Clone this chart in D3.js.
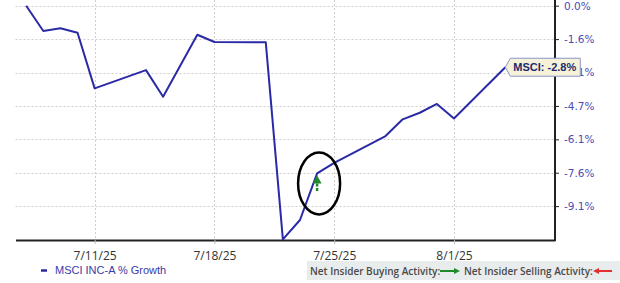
<!DOCTYPE html>
<html><head><meta charset="utf-8">
<script src="https://cdn.jsdelivr.net/npm/d3@7"></script>
<style>body{margin:0;background:#fff}svg{display:block}</style>
</head><body>
<script>
const dates = ["2025-07-07","2025-07-08","2025-07-09","2025-07-10","2025-07-11","2025-07-14","2025-07-15","2025-07-17","2025-07-18","2025-07-21","2025-07-22","2025-07-23","2025-07-24","2025-07-25","2025-07-28","2025-07-29","2025-07-30","2025-07-31","2025-08-01","2025-08-04"];
const growth = [0.0,-1.15,-1.03,-1.23,-3.76,-2.93,-4.14,-1.32,-1.65,-1.66,-10.63,-9.75,-7.63,-7.15,-5.93,-5.17,-4.87,-4.47,-5.13,-2.8];
const xTickDates = ["2025-07-11","2025-07-18","2025-07-25","2025-08-01"];
const xTickLabels = ["7/11/25","7/18/25","7/25/25","8/1/25"];
const yTickValues = [0,-1.52,-3.04,-4.56,-6.08,-7.6,-9.12];
const yTickLabels = ["0.0%","-1.6%","-3.1%","-4.7%","-6.1%","-7.6%","-9.1%"];
const buyDates = ["2025-07-24"];
const seriesName = "MSCI INC-A % Growth";
const lastLabel = "MSCI: -2.8%";

const parse = s => { const [y,m,d] = s.split("-").map(Number); return new Date(y, m-1, d); };
const W = 620, H = 283;
const svg = d3.select("body").append("svg").attr("width", W).attr("height", H);

const x = d3.scaleTime()
  .domain([new Date(2025,6,6,9,0), new Date(2025,7,6,21,40)])
  .range([15.5, 555]);
const y = d3.scaleLinear().domain([0, -10.66]).range([5.7, 240]);

// grid
const grid = svg.append("g").attr("stroke", "#cfcfcf").attr("stroke-dasharray", "2,2").attr("stroke-width", 1);
yTickValues.forEach(v => grid.append("line").attr("x1", 15.5).attr("x2", 555).attr("y1", Math.round(y(v))+0.5).attr("y2", Math.round(y(v))+0.5));
xTickDates.forEach(d => grid.append("line").attr("y1", 0).attr("y2", 240).attr("x1", Math.round(x(parse(d)))+0.5).attr("x2", Math.round(x(parse(d)))+0.5));

// axes
const xAxis = d3.axisBottom(x).tickValues(xTickDates.map(parse)).tickFormat((d,i) => xTickLabels[i]).tickSize(4).tickSizeOuter(0);
const gx = svg.append("g").attr("transform", "translate(0,240)").call(xAxis);
gx.select(".domain").attr("stroke", "#222").attr("stroke-width", 2);
gx.selectAll(".tick line").attr("stroke", "#bbb");
gx.selectAll("text").attr("font-family", "Open Sans, sans-serif").attr("font-size", 12).attr("fill", "#333").attr("dy", "1.05em");

const yAxis = d3.axisRight(y).tickValues(yTickValues).tickFormat((d,i) => yTickLabels[i]).tickSize(4).tickSizeOuter(0);
const gy = svg.append("g").attr("transform", "translate(555,0)").call(yAxis);
gy.select(".domain").attr("stroke", "#222").attr("stroke-width", 2).attr("d", "M0,0V241");
gy.selectAll(".tick line").attr("stroke", "#222");
gy.selectAll("text").attr("font-family", "DejaVu Sans, sans-serif").attr("font-size", 10.5).attr("fill", "#4b4bb5").attr("x", 9);

// line
const data = dates.map((d,i) => ({d: parse(d), v: growth[i]}));
svg.append("path").datum(data)
  .attr("fill", "none").attr("stroke", "#2a2aa6").attr("stroke-width", 2).attr("stroke-linejoin", "round")
  .attr("d", d3.line().x(p => x(p.d)).y(p => y(p.v)));

// buy markers
buyDates.forEach(bd => {
  const p = data.find(q => +q.d === +parse(bd));
  const cx = x(p.d), cy = y(p.v);
  svg.append("ellipse").attr("cx", cx+2).attr("cy", cy+10).attr("rx", 21).attr("ry", 31)
    .attr("fill", "none").attr("stroke", "#000").attr("stroke-width", 2.5);
  svg.append("path").attr("d", `M${cx},${cy+2}L${cx+4.5},${cy+10}L${cx-4.5},${cy+10}Z`).attr("fill", "#1f8a2a");
  svg.append("line").attr("x1", cx).attr("x2", cx).attr("y1", cy+10).attr("y2", cy+18)
    .attr("stroke", "#1f8a2a").attr("stroke-width", 2.5).attr("stroke-dasharray", "3,1.5");
});

// last value callout
const last = data[data.length-1];
const lx = x(last.d), ly = y(last.v);
const g = svg.append("g");
const t = g.append("text").attr("x", lx+8).attr("y", ly+4).text(lastLabel)
  .attr("font-family", "Liberation Sans, Arial, sans-serif").attr("font-size", 11).attr("font-weight", "bold").attr("fill", "#1d2a6e");
const tw = t.node().getComputedTextLength();
g.insert("path", "text").attr("d", `M${lx},${ly}L${lx+5},${ly-9}H${lx+tw+12}V${ly+9}H${lx+5}Z`)
  .attr("fill", "#f6f2da").attr("stroke", "#8a96c8").attr("stroke-width", 1);

// legend
svg.append("line").attr("x1", 41).attr("x2", 47).attr("y1", 270.5).attr("y2", 270.5).attr("stroke", "#2a2aa6").attr("stroke-width", 2.5);
svg.append("text").attr("x", 55).attr("y", 274).text(seriesName)
  .attr("font-family", "Liberation Sans, Arial, sans-serif").attr("font-size", 11).attr("fill", "#3a3aa8");

// insider legend box
svg.append("rect").attr("x", 307).attr("y", 261).attr("width", 313).attr("height", 19).attr("fill", "#e9ecec");
const f = "Open Sans, sans-serif";
svg.append("text").attr("x", 310).attr("y", 275).text("Net Insider Buying Activity:").attr("font-family", f).attr("font-size", 10).attr("font-weight", 600).attr("fill", "#4a4a4a");
svg.append("line").attr("x1", 440).attr("x2", 455).attr("y1", 271).attr("y2", 271).attr("stroke", "#1f8a2a").attr("stroke-width", 2);
svg.append("path").attr("d", "M460,271L454,268L454,274Z").attr("fill", "#1f8a2a");
svg.append("text").attr("x", 464).attr("y", 275).text("Net Insider Selling Activity:").attr("font-family", f).attr("font-size", 10).attr("font-weight", 600).attr("fill", "#4a4a4a");
svg.append("line").attr("x1", 598).attr("x2", 612).attr("y1", 271).attr("y2", 271).attr("stroke", "#e23030").attr("stroke-width", 2);
svg.append("path").attr("d", "M593,271L599,268L599,274Z").attr("fill", "#e23030");
</script>
</body></html>
